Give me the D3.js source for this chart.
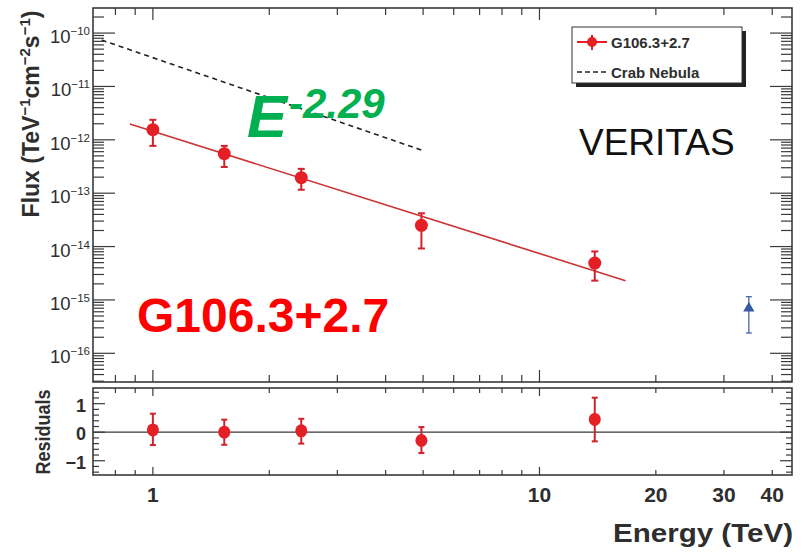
<!DOCTYPE html>
<html>
<head>
<meta charset="utf-8">
<script src="https://cdn.jsdelivr.net/npm/d3@7"></script>
<style>
  body { margin: 0; background: #fff; }
  text { font-family: "Liberation Sans", Arial, Helvetica, sans-serif; }
</style>
</head>
<body>
<svg id="chart" width="812" height="552"></svg>
<script>
// ---- Spectrum data (VERITAS, G106.3+2.7) ----
const energy      = [1.0, 1.53, 2.42, 4.95, 13.9];          // TeV
const flux        = [1.55e-12, 5.5e-13, 1.95e-13, 2.5e-14, 4.9e-15];
const fluxHigh    = [2.37e-12, 7.7e-13, 2.86e-13, 4.2e-14, 8.1e-15];
const fluxLow     = [7.7e-13, 3.1e-13, 1.16e-13, 9.2e-15, 2.3e-15];

// residuals of the power-law fit
const residual     = [0.08, 0.0, 0.05, -0.29, 0.45];
const residualHigh = [0.65, 0.44, 0.47, 0.18, 1.21];
const residualLow  = [-0.45, -0.44, -0.40, -0.73, -0.32];

// highest-energy point (triangle)
const triEnergy = [34.8];
const triFlux   = [7.0e-16];
const triHigh   = [1.15e-15];
const triLow    = [2.4e-16];

// power-law fit E^-2.29
const fitIndex = -2.29;
const fitNorm  = 1.445e-12;        // flux at 1 TeV
const fitRange = [0.872, 16.7];    // TeV

// Crab Nebula reference spectrum
const crabEnergy = [0.737, 4.96];
const crabFlux   = [7.4e-11, 6.4e-13];

// axis ticks
const yDecades      = [-16, -15, -14, -13, -12, -11, -10];
const xLabelValues  = [1, 10, 20, 30, 40];
const xMinorValues  = [0.8, 0.9, 2, 3, 4, 5, 6, 7, 8, 9, 20, 30, 40];
const xMajorValues  = [1, 10];
const resLabelValues = [-1, 0, 1];

// ---- layout ----
const svg = d3.select("#chart");
const L = 93, R = 792;
const topT = 8, topB = 382;
const resT = 388, resB = 475;
const frameColor = "#3a3a3a";
const textColor = "#2e2e2e";
const red = "#e41f26";
const redDark = "#d0222a";

const x  = d3.scaleLog().domain([0.7, 45]).range([L, R]);
const y  = d3.scaleLog().domain([2.9e-17, 2.95e-10]).range([topB, topT]);
const yr = d3.scaleLinear().domain([-1.5, 1.55]).range([resB, resT]);

svg.append("rect").attr("width", 812).attr("height", 552).attr("fill", "#fff");

// ---- tick helpers ----
function hTicks(g, values, yPos, len, dir) {
  g.selectAll(null).data(values).join("line")
    .attr("x1", d => x(d)).attr("x2", d => x(d))
    .attr("y1", yPos).attr("y2", yPos + dir * len)
    .attr("stroke", frameColor).attr("stroke-width", 1.2);
}
function vTicks(g, values, scale, xPos, len, dir) {
  g.selectAll(null).data(values).join("line")
    .attr("x1", xPos).attr("x2", xPos + dir * len)
    .attr("y1", d => scale(d)).attr("y2", d => scale(d))
    .attr("stroke", frameColor).attr("stroke-width", 1.2);
}

// ---- top panel ----
const gTop = svg.append("g");

// log minor ticks for flux axis
const yMinor = [], yMajor = [];
for (let e = -17; e <= -10; e++) {
  for (let m = 1; m <= 9; m++) {
    const v = m * Math.pow(10, e);
    if (v < y.domain()[0] || v > y.domain()[1]) continue;
    (m === 1 ? yMajor : yMinor).push(v);
  }
}
vTicks(gTop, yMinor, y, L, 11, 1);
vTicks(gTop, yMajor, y, L, 22, 1);
vTicks(gTop, yMinor, y, R, 11, -1);
vTicks(gTop, yMajor, y, R, 22, -1);
hTicks(gTop, xMinorValues, topT, 7, 1);
hTicks(gTop, xMajorValues, topT, 12, 1);
hTicks(gTop, xMinorValues, topB, 7, -1);
hTicks(gTop, xMajorValues, topB, 12, -1);

gTop.append("rect").attr("x", L).attr("y", topT)
  .attr("width", R - L).attr("height", topB - topT)
  .attr("fill", "none").attr("stroke", frameColor).attr("stroke-width", 1.6);

// flux decade labels
yDecades.forEach(e => {
  const t = gTop.append("text")
    .attr("x", 90).attr("y", y(Math.pow(10, e)) + 10)
    .attr("text-anchor", "end").attr("fill", textColor);
  t.append("tspan").attr("font-size", 18.5).text("10");
  t.append("tspan").attr("font-size", 11.5).attr("dy", -8).text("\u2212" + Math.abs(e));
});

// flux axis title
const yTitle = gTop.append("text")
  .attr("transform", "translate(39,114) rotate(-90)")
  .attr("text-anchor", "middle").attr("font-weight", "bold")
  .attr("font-size", 23).attr("fill", textColor);
[["Flux (TeV", 0], ["\u22121", 1], ["cm", 0], ["\u22122", 1], ["s", 0], ["\u22121", 1], [")", 0]]
  .forEach(([s, sup], i, arr) => {
    const prevSup = i > 0 ? arr[i - 1][1] : 0;
    yTitle.append("tspan")
      .attr("font-size", sup ? 15 : 23)
      .attr("dy", sup && !prevSup ? -9 : (!sup && prevSup ? 9 : 0))
      .text(s);
  });

// Crab Nebula (dashed)
gTop.append("path")
  .datum(crabEnergy.map((e, i) => [e, crabFlux[i]]))
  .attr("d", d3.line().x(d => x(d[0])).y(d => y(d[1])))
  .attr("fill", "none").attr("stroke", "#222").attr("stroke-width", 1.6)
  .attr("stroke-dasharray", "5,4");

// power-law fit
const fitPts = fitRange.map(e => [e, fitNorm * Math.pow(e, fitIndex)]);
gTop.append("path").datum(fitPts)
  .attr("d", d3.line().x(d => x(d[0])).y(d => y(d[1])))
  .attr("fill", "none").attr("stroke", "#cc3333").attr("stroke-width", 1.6);

// error bars + points
function errorBar(g, xs, hi, lo, color, w, cap) {
  xs.forEach((xv, i) => {
    g.append("line").attr("x1", xv).attr("x2", xv)
      .attr("y1", hi[i]).attr("y2", lo[i])
      .attr("stroke", color).attr("stroke-width", w);
    [hi[i], lo[i]].forEach(yy => g.append("line")
      .attr("x1", xv - cap).attr("x2", xv + cap).attr("y1", yy).attr("y2", yy)
      .attr("stroke", color).attr("stroke-width", w));
  });
}
errorBar(gTop, energy.map(x), fluxHigh.map(y), fluxLow.map(y), redDark, 2, 3.5);
gTop.selectAll(null).data(energy).join("circle")
  .attr("cx", d => x(d)).attr("cy", (d, i) => y(flux[i]))
  .attr("r", 6.5).attr("fill", red);

// triangle point
errorBar(gTop, triEnergy.map(x), triHigh.map(y), triLow.map(y), "#3f5aa6", 1.2, 3);
gTop.selectAll(null).data(triEnergy).join("path")
  .attr("transform", (d, i) => `translate(${x(d)},${y(triFlux[i])})`)
  .attr("d", d3.symbol(d3.symbolTriangle, 55))
  .attr("fill", "#3a58a8");

// legend
const lg = gTop.append("g");
lg.append("rect").attr("x", 576).attr("y", 31).attr("width", 170).attr("height", 56).attr("fill", "#222");
lg.append("rect").attr("x", 572).attr("y", 27).attr("width", 170).attr("height", 56)
  .attr("fill", "#fff").attr("stroke", "#333").attr("stroke-width", 1);
lg.append("line").attr("x1", 577).attr("x2", 607).attr("y1", 42).attr("y2", 42)
  .attr("stroke", red).attr("stroke-width", 2);
lg.append("line").attr("x1", 592).attr("x2", 592).attr("y1", 35).attr("y2", 50)
  .attr("stroke", red).attr("stroke-width", 2);
lg.append("circle").attr("cx", 592).attr("cy", 42).attr("r", 5).attr("fill", red);
lg.append("line").attr("x1", 577).attr("x2", 607).attr("y1", 72).attr("y2", 72)
  .attr("stroke", "#222").attr("stroke-width", 1.6).attr("stroke-dasharray", "5,3");
lg.append("text").attr("x", 611).attr("y", 47.5).attr("font-size", 15).attr("font-weight", "bold")
  .attr("fill", textColor).text("G106.3+2.7");
lg.append("text").attr("x", 611).attr("y", 77.5).attr("font-size", 15).attr("font-weight", "bold")
  .attr("fill", textColor).text("Crab Nebula");

// annotations
const idx = gTop.append("text").attr("fill", "#00b050").attr("font-weight", "bold").attr("font-style", "italic");
idx.append("tspan").attr("x", 247).attr("y", 137).attr("font-size", 60).text("E");
idx.append("tspan").attr("x", 289).attr("y", 118).attr("font-size", 42).text("-2.29");

gTop.append("text").attr("x", 579).attr("y", 155).attr("font-size", 37)
  .attr("fill", "#111").text("VERITAS");

gTop.append("text").attr("x", 137).attr("y", 332).attr("font-size", 48)
  .attr("font-weight", "bold").attr("fill", "#ff0000").text("G106.3+2.7");

// ---- residual panel ----
const gRes = svg.append("g");
const rMinor = d3.range(-14, 16, 2).map(v => v / 10).filter(v => ![-1, 0, 1].includes(v));
vTicks(gRes, rMinor, yr, L, 6, 1);
vTicks(gRes, resLabelValues, yr, L, 12, 1);
vTicks(gRes, rMinor, yr, R, 6, -1);
vTicks(gRes, resLabelValues, yr, R, 12, -1);
hTicks(gRes, xMinorValues, resT, 5, 1);
hTicks(gRes, xMajorValues, resT, 8, 1);
hTicks(gRes, xMinorValues, resB, 5, -1);
hTicks(gRes, xMajorValues, resB, 8, -1);

gRes.append("line").attr("x1", L).attr("x2", R).attr("y1", yr(0)).attr("y2", yr(0))
  .attr("stroke", frameColor).attr("stroke-width", 1.3);

gRes.append("rect").attr("x", L).attr("y", resT)
  .attr("width", R - L).attr("height", resB - resT)
  .attr("fill", "none").attr("stroke", frameColor).attr("stroke-width", 1.6);

errorBar(gRes, energy.map(x), residualHigh.map(yr), residualLow.map(yr), redDark, 2, 3);
gRes.selectAll(null).data(energy).join("ellipse")
  .attr("cx", d => x(d)).attr("cy", (d, i) => yr(residual[i]))
  .attr("rx", 6).attr("ry", 6.5).attr("fill", red);

gRes.selectAll(null).data(resLabelValues).join("text")
  .attr("x", 86).attr("y", d => yr(d) + 8)
  .attr("text-anchor", "end").attr("font-size", 18).attr("font-weight", "bold")
  .attr("fill", textColor).text(d => d < 0 ? "\u2212" + Math.abs(d) : d);

gRes.append("text")
  .attr("transform", "translate(50,432) rotate(-90)")
  .attr("text-anchor", "middle").attr("font-size", 20).attr("font-weight", "bold")
  .attr("fill", textColor).attr("textLength", 85).attr("lengthAdjust", "spacingAndGlyphs")
  .text("Residuals");

// energy axis labels
svg.selectAll(null).data(xLabelValues).join("text")
  .attr("x", d => x(d)).attr("y", 502)
  .attr("text-anchor", "middle").attr("font-size", 21).attr("font-weight", "bold")
  .attr("fill", textColor).text(d => d);

svg.append("text").attr("x", 793).attr("y", 542)
  .attr("text-anchor", "end").attr("font-size", 25).attr("font-weight", "bold")
  .attr("fill", textColor).attr("textLength", 180).attr("lengthAdjust", "spacingAndGlyphs")
  .text("Energy (TeV)");
</script>
</body>
</html>
